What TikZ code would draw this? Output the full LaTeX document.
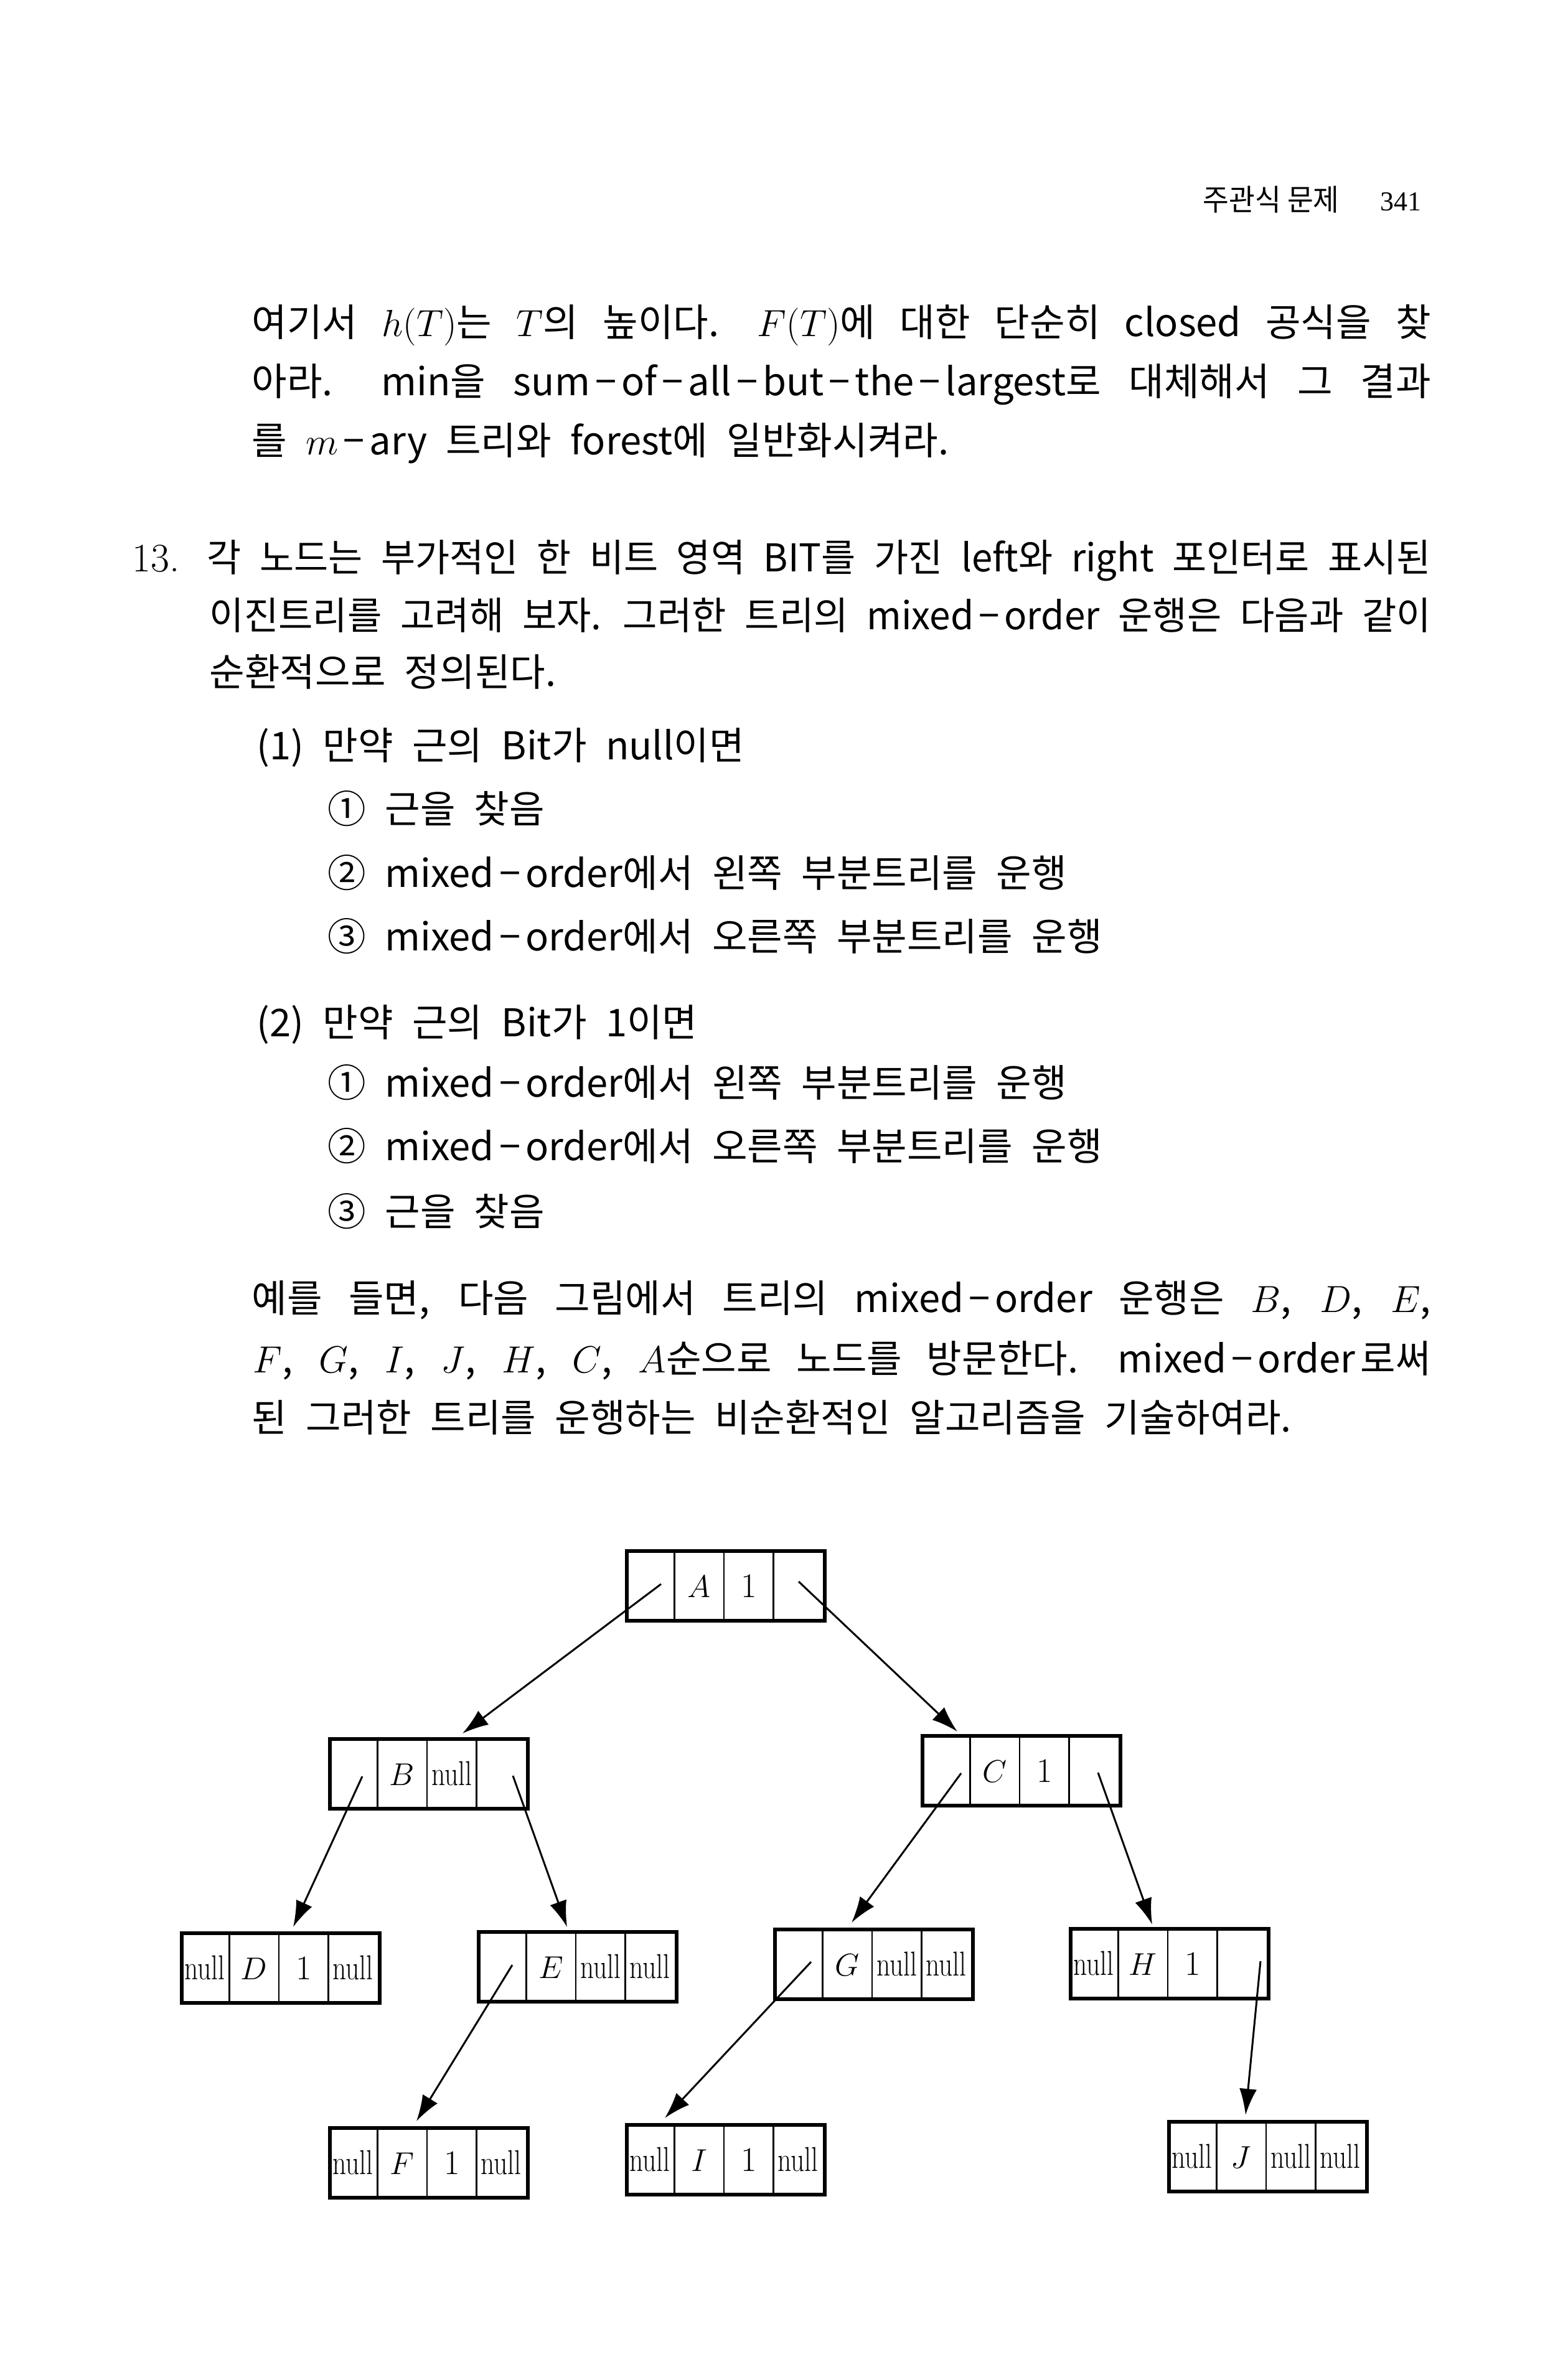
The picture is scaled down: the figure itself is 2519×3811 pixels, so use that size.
\documentclass[tikz,border=0pt]{standalone}
\usepackage{fontspec}
\usepackage{graphicx}
\usetikzlibrary{calc,arrows.meta}
\newfontfamily\kr{Noto Sans CJK KR}[WordSpace=2.2]
\newfontfamily\krhead{Noto Sans CJK KR}[FakeStretch=0.95]
\newfontfamily\tms{Liberation Serif}
\newlength\px \setlength\px{0.1mm}
\newcommand\nul{\scalebox{0.78}[1]{null}}
\newcommand\dd{\hspace{8\px}−\hspace{8\px}}
\newsavebox\jbox
\newcommand\jline[2]{\sbox\jbox{#2}\ifdim\wd\jbox>#1\relax\resizebox{#1}{\height}{#2}\else\makebox[#1][s]{#2}\fi}
\tikzset{
  body/.style={anchor=base west, inner sep=0pt, font=\kr\fontsize{17.5pt}{21pt}\selectfont},
  nodebox/.style={draw, line width=0.6mm, minimum width=31.8mm, minimum height=11.2mm, inner sep=0pt, anchor=north west},
  cellline/.style={line width=0.25mm},
  cell/.style={anchor=base, inner sep=0pt, font=\fontsize{15.8pt}{18pt}\selectfont},
  ptr/.style={line width=0.3mm, -{Latex[length=4.2mm,width=2.8mm]}},
}
\newcommand\bitbox[7]{%
  \node[nodebox] (#1) at (#2,#3) {};
  \draw[cellline] ($(#1.north west)+(79.5,0)$) -- ($(#1.south west)+(79.5,0)$);
  \draw[cellline] ($(#1.north west)+(159,0)$) -- ($(#1.south west)+(159,0)$);
  \draw[cellline] ($(#1.north west)+(238.5,0)$) -- ($(#1.south west)+(238.5,0)$);
  \node[cell] (#1c1) at ($(#1.north west)+(40,77)$) {#4};
  \node[cell] (#1c2) at ($(#1.north west)+(119,77)$) {#5};
  \node[cell] (#1c3) at ($(#1.north west)+(199,77)$) {#6};
  \node[cell] (#1c4) at ($(#1.north west)+(278,77)$) {#7};
}
\begin{document}
\begin{tikzpicture}[x=0.1mm,y=-0.1mm]
\fill[white] (0,0) rectangle (2519,3811);
\useasboundingbox (0,0) rectangle (2519,3811);

% header
\node[anchor=base west, inner sep=0pt, font=\krhead\fontsize{13.6pt}{16pt}\selectfont] (hd) at (1932,338) {주관식 문제};
\node[anchor=base east, inner sep=0pt, font=\tms\fontsize{12.5pt}{15pt}\selectfont] (pg) at (2284,338) {341};

% paragraph
\node[body] (l1) at (404,540) {\jline{1894\px}{여기서 $h(T)$는 $T$의 높이다. $F(T)$에 대한 단순히 closed 공식을 찾}};
\node[body] (l2) at (404,635) {\jline{1894\px}{아라. min을 sum\dd of\dd all\dd but\dd the\dd largest로 대체해서 그 결과}};
\node[body] (l3) at (404,730) {를 $m$\dd ary 트리와 forest에 일반화시켜라.};

\node[anchor=base west, inner sep=0pt, font=\fontsize{18.5pt}{21pt}\selectfont] (n13) at (212,918) {13.};
\node[body] (l4) at (332,918) {\jline{1966\px}{각 노드는 부가적인 한 비트 영역 BIT를 가진 left와 right 포인터로 표시된}};
\node[body] (l5) at (336,1011) {\jline{1962\px}{이진트리를 고려해 보자. 그러한 트리의 mixed\dd order 운행은 다음과 같이}};
\node[body] (l6) at (336,1102) {순환적으로 정의된다.};

\node[body] (l7) at (412,1220) {(1) 만약 근의 Bit가 null이면};
\node[body] (l8) at (526,1322) {① 근을 찾음};
\node[body] (l9) at (526,1425) {② mixed\dd order에서 왼쪽 부분트리를 운행};
\node[body] (l10) at (526,1527) {③ mixed\dd order에서 오른쪽 부분트리를 운행};
\node[body] (l11) at (412,1665) {(2) 만약 근의 Bit가 1이면};
\node[body] (l12) at (526,1762) {① mixed\dd order에서 왼쪽 부분트리를 운행};
\node[body] (l13) at (526,1864) {② mixed\dd order에서 오른쪽 부분트리를 운행};
\node[body] (l14) at (526,1969) {③ 근을 찾음};

\node[body] (l15) at (404,2108) {\jline{1894\px}{예를 들면, 다음 그림에서 트리의 mixed\dd order 운행은 $B$, $D$, $E$,}};
\node[body] (l16) at (406,2205) {\jline{1892\px}{$F$, $G$, $I$, $J$, $H$, $C$, $A$순으로 노드를 방문한다. mixed\dd order\hspace{8\px}로써}};
\node[body] (l17) at (404,2300) {된 그러한 트리를 운행하는 비순환적인 알고리즘을 기술하여라.};

% tree
\bitbox{A}{1004}{2489}{}{$A$}{1}{}
\bitbox{B}{527}{2791}{}{$B$}{\nul}{}
\bitbox{C}{1479}{2786}{}{$C$}{1}{}
\bitbox{D}{289}{3103}{\nul}{$D$}{1}{\nul}
\bitbox{E}{766}{3101}{}{$E$}{\nul}{\nul}
\bitbox{G}{1242}{3097}{}{$G$}{\nul}{\nul}
\bitbox{H}{1717}{3096}{\nul}{$H$}{1}{}
\bitbox{F}{527}{3416}{\nul}{$F$}{1}{\nul}
\bitbox{I}{1004}{3411}{\nul}{$I$}{1}{\nul}
\bitbox{J}{1875}{3406}{\nul}{$J$}{\nul}{\nul}

% pointer starts
\coordinate (Al) at ($(A.north west)+(58,56)$);
\coordinate (Ar) at ($(A.north west)+(279,52)$);
\coordinate (Bl) at ($(B.north west)+(55,63)$);
\coordinate (Br) at ($(B.north west)+(297,62)$);
\coordinate (Cl) at ($(C.north west)+(65,63)$);
\coordinate (Cr) at ($(C.north west)+(285,62)$);
\coordinate (El) at ($(E.north west)+(57,56)$);
\coordinate (Gl) at ($(G.north west)+(61,55)$);
\coordinate (Hr) at ($(H.north west)+(308,55)$);
% pointer targets
\coordinate (Bt) at ($(B.north west)+(216,-6)$);
\coordinate (Ct) at ($(C.north west)+(59,-4)$);
\coordinate (Dt) at ($(D.north west)+(182,-7)$);
\coordinate (Et) at ($(E.north west)+(145,-5)$);
\coordinate (Gt) at ($(G.north west)+(126,-8)$);
\coordinate (Ht) at ($(H.north west)+(134,-4)$);
\coordinate (Ft) at ($(F.north west)+(142,-8)$);
\coordinate (It) at ($(I.north west)+(64,-8)$);
\coordinate (Jt) at ($(J.north west)+(126,-8)$);

\draw[ptr] (Al) -- (Bt);
\draw[ptr] (Ar) -- (Ct);
\draw[ptr] (Bl) -- (Dt);
\draw[ptr] (Br) -- (Et);
\draw[ptr] (Cl) -- (Gt);
\draw[ptr] (Cr) -- (Ht);
\draw[ptr] (El) -- (Ft);
\draw[ptr] (Gl) -- (It);
\draw[ptr] (Hr) -- (Jt);
\end{tikzpicture}
\end{document}
